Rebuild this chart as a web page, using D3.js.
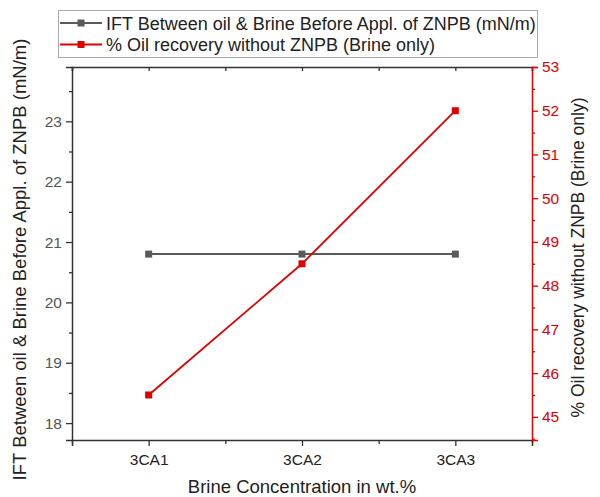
<!DOCTYPE html>
<html>
<head>
<meta charset="utf-8">
<script src="https://cdn.jsdelivr.net/npm/d3@7"></script>
<style>
    body { margin: 0; background: #fff; }
    svg { font-family: "Liberation Sans", Arial, sans-serif; }
</style>
</head>
<body>
<script>
// chart values
var categories = ["3CA1", "3CA2", "3CA3"];
var iftValues = [20.8, 20.8, 20.8];
var recoveryValues = [45.5, 48.5, 52.0];
var leftTicks = [18, 19, 20, 21, 22, 23];
var rightTicks = [45, 46, 47, 48, 49, 50, 51, 52, 53];
var seriesNames = ["IFT Between oil & Brine Before Appl. of ZNPB (mN/m)",
    "% Oil recovery without ZNPB (Brine only)"];

var margin = {top: 67, right: 68, bottom: 57, left: 72},
    width = 600 - margin.left - margin.right,
    height = 497 - margin.top - margin.bottom;

var grey = "#5a5a5a", red = "#e00000";
var fmt = d3.format("d");

var svg = d3.select("body").append("svg")
    .attr("width", 600)
    .attr("height", 497);

var g = svg.append("g")
    .attr("transform", "translate(" + margin.left + "," + margin.top + ")");

// categories sit at 1, 2, 3 on a linear scale so the half steps get ticks
var xScale = d3.scaleLinear().domain([0.5, 3.5]).range([0, width]);
var yLeft = d3.scaleLinear().domain([17.72, 23.9]).range([height, 0]);
var yRight = d3.scaleLinear().domain([44.47, 53.0]).range([height, 0]);

var xMajor = categories.map(function(d, i) { return i + 1; });
var xMinor = [0.5, 1.5, 2.5, 3.5];

function halfSteps(ticks, scale) {
    var dom = scale.domain(), out = [];
    ticks.forEach(function(t) {
        [t - 0.5, t + 0.5].forEach(function(m) {
            if (m >= dom[0] && m <= dom[1] && out.indexOf(m) < 0) out.push(m);
        });
    });
    return out;
}

// bottom axis
g.append("g")
    .attr("transform", "translate(0," + height + ")")
    .call(d3.axisBottom(xScale).tickValues(xMajor).tickSize(6)
        .tickFormat(function(d) { return categories[d - 1]; }))
    .call(function(a) {
        a.select(".domain").attr("stroke", "#333").attr("stroke-width", 1.5);
        a.selectAll("line").attr("stroke", "#333").attr("stroke-width", 1.3);
        a.selectAll("text").attr("fill", "#222").attr("font-size", "15.5px")
            .attr("dy", "1.0em");
    });
g.append("g")
    .attr("transform", "translate(0," + height + ")")
    .call(d3.axisBottom(xScale).tickValues(xMinor).tickSize(4).tickFormat(""))
    .call(function(a) {
        a.select(".domain").remove();
        a.selectAll("line").attr("stroke", "#333").attr("stroke-width", 1.3);
    });

// top frame with inward ticks
g.append("g")
    .call(d3.axisTop(xScale).tickValues(xMajor.concat(xMinor))
        .tickSize(-4).tickFormat(""))
    .call(function(a) {
        a.select(".domain").attr("stroke", "#333").attr("stroke-width", 1.5);
        a.selectAll("line").attr("stroke", "#333").attr("stroke-width", 1.3);
    });

// left axis
g.append("g")
    .call(d3.axisLeft(yLeft).tickValues(leftTicks).tickSize(6).tickPadding(4)
        .tickFormat(fmt))
    .call(function(a) {
        a.select(".domain").attr("stroke", "#333").attr("stroke-width", 1.5);
        a.selectAll("line").attr("stroke", "#333").attr("stroke-width", 1.3);
        a.selectAll("text").attr("fill", "#555").attr("font-size", "15.5px");
    });
g.append("g")
    .call(d3.axisLeft(yLeft).tickValues(halfSteps(leftTicks, yLeft))
        .tickSize(3).tickFormat(""))
    .call(function(a) {
        a.select(".domain").remove();
        a.selectAll("line").attr("stroke", "#333").attr("stroke-width", 1.3);
    });

// right axis in red
g.append("g")
    .attr("transform", "translate(" + width + ",0)")
    .call(d3.axisRight(yRight).tickValues(rightTicks).tickSize(6).tickPadding(4)
        .tickFormat(fmt))
    .call(function(a) {
        a.select(".domain").attr("stroke", red).attr("stroke-width", 1.5);
        a.selectAll("line").attr("stroke", red).attr("stroke-width", 1.3);
        a.selectAll("text").attr("fill", red).attr("font-size", "15.5px");
    });
g.append("g")
    .attr("transform", "translate(" + width + ",0)")
    .call(d3.axisRight(yRight).tickValues(halfSteps(rightTicks, yRight))
        .tickSize(3).tickFormat(""))
    .call(function(a) {
        a.select(".domain").remove();
        a.selectAll("line").attr("stroke", red).attr("stroke-width", 1.3);
    });

// series
var iftLine = d3.line()
    .x(function(d, i) { return xScale(i + 1); })
    .y(function(d) { return yLeft(d); });
var recLine = d3.line()
    .x(function(d, i) { return xScale(i + 1); })
    .y(function(d) { return yRight(d); });

g.append("path").datum(iftValues)
    .attr("d", iftLine)
    .attr("fill", "none").attr("stroke", grey).attr("stroke-width", 2);
g.selectAll(".ift-pt").data(iftValues).enter().append("rect")
    .attr("class", "ift-pt")
    .attr("x", function(d, i) { return xScale(i + 1) - 3.5; })
    .attr("y", function(d) { return yLeft(d) - 3.5; })
    .attr("width", 7).attr("height", 7)
    .attr("fill", grey);

g.append("path").datum(recoveryValues)
    .attr("d", recLine)
    .attr("fill", "none").attr("stroke", red).attr("stroke-width", 1.8);
g.selectAll(".rec-pt").data(recoveryValues).enter().append("rect")
    .attr("class", "rec-pt")
    .attr("x", function(d, i) { return xScale(i + 1) - 3.5; })
    .attr("y", function(d) { return yRight(d) - 3.5; })
    .attr("width", 7).attr("height", 7)
    .attr("fill", red);

// axis titles
svg.append("text")
    .attr("x", margin.left + width / 2)
    .attr("y", 493)
    .attr("text-anchor", "middle")
    .attr("font-size", "18.5px")
    .attr("fill", "#222")
    .text("Brine Concentration in wt.%");

svg.append("text")
    .attr("transform", "translate(26," + (margin.top + height / 2 + 6) + ") rotate(-90)")
    .attr("text-anchor", "middle")
    .attr("font-size", "18.5px")
    .attr("fill", "#222")
    .text("IFT Between oil & Brine Before Appl. of ZNPB (mN/m)");

svg.append("text")
    .attr("transform", "translate(584," + (margin.top + height / 2 + 4) + ") rotate(-90)")
    .attr("text-anchor", "middle")
    .attr("font-size", "17.5px")
    .attr("fill", "#222")
    .text("% Oil recovery without ZNPB (Brine only)");

// legend
var legend = svg.append("g");
legend.append("rect")
    .attr("x", 58.5).attr("y", 10.5)
    .attr("width", 479).attr("height", 47)
    .attr("fill", "#fff").attr("stroke", "#aaa");

var legendColors = [grey, red];
seriesNames.forEach(function(name, i) {
    var cy = 23 + i * 21.5;
    legend.append("line")
        .attr("x1", 60).attr("x2", 102)
        .attr("y1", cy).attr("y2", cy)
        .attr("stroke", legendColors[i]).attr("stroke-width", 2);
    legend.append("rect")
        .attr("x", 77.5).attr("y", cy - 3.5)
        .attr("width", 7).attr("height", 7)
        .attr("fill", legendColors[i]);
    legend.append("text")
        .attr("x", 106).attr("y", cy + 6.5)
        .attr("font-size", "18px")
        .attr("fill", "#222")
        .text(name);
});
</script>
</body>
</html>
